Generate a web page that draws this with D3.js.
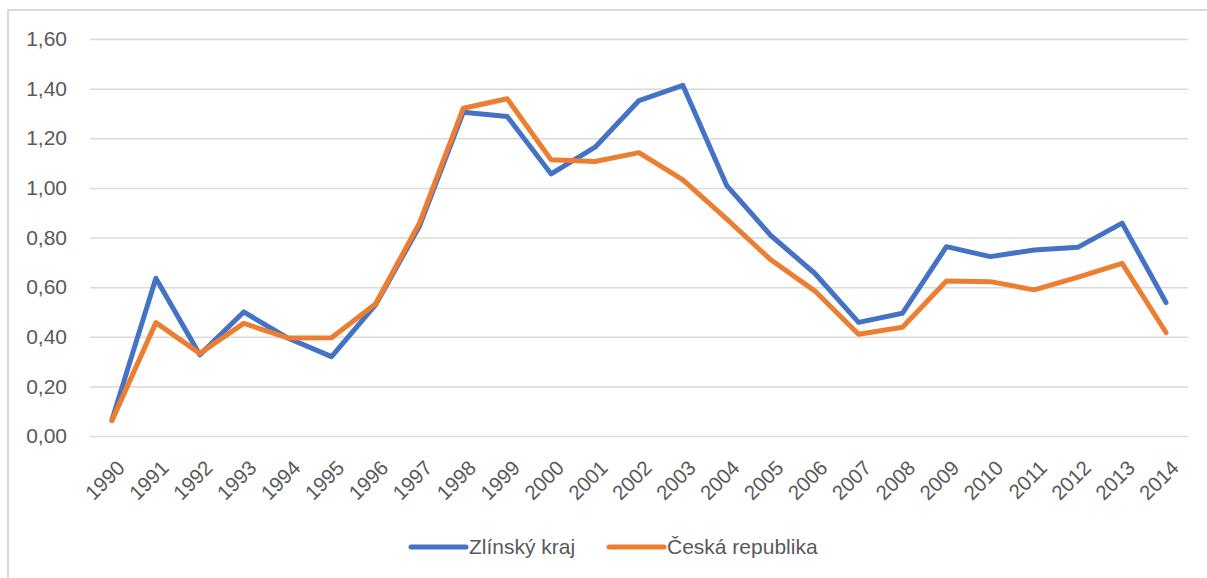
<!DOCTYPE html>
<html>
<head>
<meta charset="utf-8">
<script src="https://cdn.jsdelivr.net/npm/d3@7"></script>
<style>
  body { margin: 0; background: #fff; }
  text { font-family: "Liberation Sans", Arial, sans-serif; fill: #595959; }
</style>
</head>
<body>
<div id="chart"></div>
<script>
// data
const years = ["1990","1991","1992","1993","1994","1995","1996","1997","1998","1999","2000","2001","2002",
  "2003","2004","2005","2006","2007","2008","2009","2010","2011","2012","2013","2014"]
const zlinsky = [0.065, 0.636, 0.327, 0.50, 0.395, 0.32, 0.528, 0.845, 1.305, 1.288, 1.056, 1.164, 1.352,
  1.413, 1.009, 0.808, 0.656, 0.458, 0.495, 0.763, 0.723, 0.75, 0.761, 0.858, 0.538]
const ceska = [0.062, 0.457, 0.333, 0.454, 0.395, 0.396, 0.532, 0.858, 1.321, 1.359, 1.113, 1.106, 1.142,
  1.032, 0.874, 0.71, 0.585, 0.41, 0.438, 0.625, 0.622, 0.589, 0.64, 0.696, 0.417]
const yTicks = [0, 0.2, 0.4, 0.6, 0.8, 1.0, 1.2, 1.4, 1.6]
const seriesNames = ["Zlínský kraj", "Česká republika"]
const colors = ["#4472C4", "#ED7D31"]

const W = 1207, H = 578
const margin = {top: 39, right: 19, bottom: 142, left: 90}
const width = W - margin.left - margin.right
const height = H - margin.top - margin.bottom

const svg = d3.select("#chart").append("svg")
  .attr("width", W)
  .attr("height", H)

// chart area border (only left and top are in frame)
svg.append("path")
  .attr("d", "M8,578 V10 H1207")
  .attr("fill", "none")
  .attr("stroke", "#d9d9d9")
  .attr("stroke-width", 2)

const g = svg.append("g")
  .attr("transform", "translate(" + margin.left + "," + margin.top + ")")

const x = d3.scaleBand()
  .domain(years)
  .range([0, width])

const y = d3.scaleLinear()
  .domain([0, 1.6])
  .range([height, 0])

// horizontal gridlines + y labels
const yAxis = g.append("g")
  .call(d3.axisLeft(y).tickValues(yTicks).tickSize(-width).tickPadding(23)
    .tickFormat(d => d3.format(".2f")(d).replace(".", ",")))
yAxis.select(".domain").remove()
yAxis.selectAll(".tick line").attr("stroke", "#d9d9d9").attr("stroke-width", 1.5)
yAxis.selectAll(".tick text").attr("font-size", 21).style("fill", "#595959")

// x labels, rotated
const xAxis = g.append("g")
  .attr("transform", "translate(0," + height + ")")
  .call(d3.axisBottom(x).tickSize(0))
xAxis.select(".domain").remove()
xAxis.selectAll(".tick text")
  .attr("font-size", 20.5)
  .style("fill", "#595959")
  .attr("text-anchor", "end")
  .attr("x", 0)
  .attr("y", 0)
  .attr("dy", "0.35em")
  .attr("transform", "translate(9,28) rotate(-45)")

// lines
const line = d3.line()
  .x((d, i) => x(years[i]) + x.bandwidth() / 2)
  .y(d => y(d))

;[zlinsky, ceska].forEach((s, i) => {
  g.append("path")
    .datum(s)
    .attr("fill", "none")
    .attr("stroke", colors[i])
    .attr("stroke-width", 5)
    .attr("stroke-linejoin", "round")
    .attr("stroke-linecap", "round")
    .attr("d", line)
})

// legend
const legendX = [411, 609]
const legend = svg.append("g")
seriesNames.forEach((name, i) => {
  legend.append("line")
    .attr("x1", legendX[i]).attr("x2", legendX[i] + 55)
    .attr("y1", 547).attr("y2", 547)
    .attr("stroke", colors[i])
    .attr("stroke-width", 5)
    .attr("stroke-linecap", "round")
  legend.append("text")
    .attr("x", legendX[i] + 58)
    .attr("y", 547)
    .attr("dy", "0.35em")
    .attr("font-size", 21)
    .text(name)
})
</script>
</body>
</html>
